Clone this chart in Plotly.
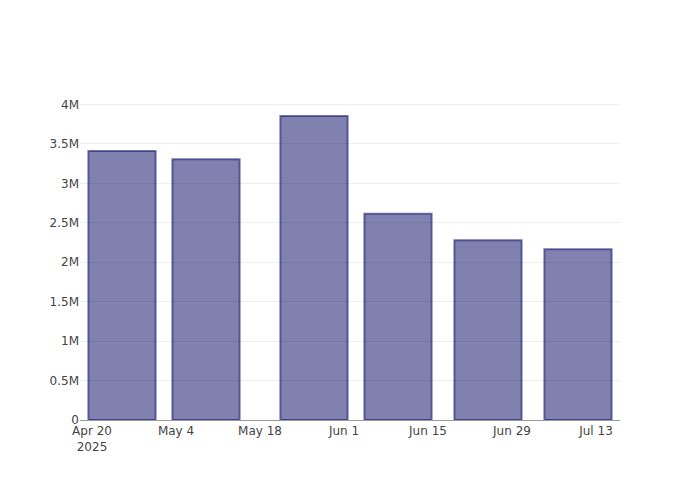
import plotly.graph_objects as go

dates = ["2025-04-25", "2025-05-09", "2025-05-27", "2025-06-10", "2025-06-25", "2025-07-10"]
values = [3410000, 3305000, 3855000, 2615000, 2280000, 2165000]

fig = go.Figure(
    go.Bar(
        x=dates,
        y=values,
        marker=dict(
            color="rgba(25,25,112,0.55)",
            line=dict(color="rgba(25,25,112,0.6)", width=2),
        ),
    )
)
fig.update_layout(
    width=700,
    height=500,
    template="none",
    paper_bgcolor="white",
    plot_bgcolor="white",
    font=dict(family="DejaVu Sans, sans-serif", size=12, color="#444"),
    margin=dict(l=80, r=80, t=100, b=80),
    showlegend=False,
)
fig.update_xaxes(type="date", showgrid=False, showline=True, linecolor="#999", linewidth=1, ticks="")
fig.update_yaxes(showgrid=True, gridcolor="#eee", zeroline=False, ticks="")
fig.write_html("out.html", config={"displayModeBar": False})

with open("out.html", "r", encoding="utf-8") as f:
    html = f.read()
html = html.replace("<body>", '<body style="margin:0">', 1)
with open("out.html", "w", encoding="utf-8") as f:
    f.write(html)
